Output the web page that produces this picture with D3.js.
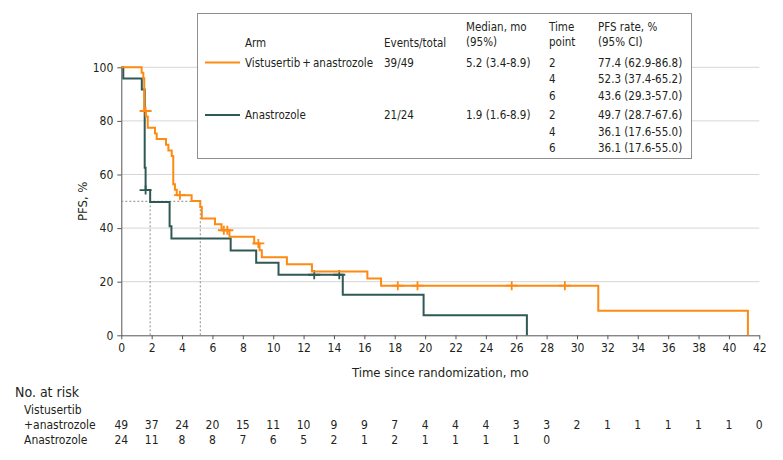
<!DOCTYPE html>
<html>
<head>
<meta charset="utf-8">
<script src="https://cdn.jsdelivr.net/npm/d3@7"></script>
<style>
  body { margin: 0; background: #fff; }
  svg text { font-family: "DejaVu Sans Condensed", "DejaVu Sans", sans-serif; font-stretch: condensed; fill: #231f20; }
</style>
</head>
<body>
<svg id="km" width="783" height="460"></svg>
<script>
// Datos.

// Vistusertib + anastrozole: tiempos de evento y supervivencia despues del paso
const vist_time = [0, 1.34, 1.45, 1.51, 1.62, 1.74, 2.22, 2.33, 2.94, 3.1, 3.32, 3.42, 3.53, 3.65, 4.63, 5.2, 5.3, 6.17, 6.6, 7.12, 8.75, 9.1, 9.25, 10.9, 12.55, 16.2, 17.1, 31.4, 41.25];
const vist_surv = [100, 98.0, 95.9, 83.7, 81.6, 77.4, 75.3, 73.2, 71.1, 69.0, 66.9, 56.4, 54.3, 52.3, 50.1, 47.9, 43.6, 41.4, 39.2, 36.8, 34.3, 31.7, 29.1, 26.5, 23.8, 21.2, 18.5, 9.2, 0];
const vist_cens_time = [1.6, 3.86, 6.75, 6.98, 9.02, 18.2, 19.5, 25.7, 29.2];
const vist_cens_surv = [83.7, 52.3, 39.2, 39.2, 34.3, 18.5, 18.5, 18.5, 18.5];

// Anastrozole
const anas_time = [0, 0.13, 1.35, 1.54, 1.6, 1.9, 3.18, 3.3, 7.2, 8.88, 10.35, 14.58, 19.9, 26.7];
const anas_surv = [100, 95.8, 91.7, 62.5, 54.2, 49.7, 40.7, 36.1, 31.6, 27.1, 22.6, 15.1, 7.5, 0];
const anas_cens_time = [1.6, 12.7, 14.35];
const anas_cens_surv = [54.2, 22.6, 22.6];

const medians = [5.2, 1.9];

// Numero en riesgo
const risk_times = d3.range(0, 43, 2);
const vist_risk = [49, 37, 24, 20, 15, 11, 10, 9, 9, 7, 4, 4, 4, 3, 3, 2, 1, 1, 1, 1, 1, 0];
const anas_risk = [24, 11, 8, 8, 7, 6, 5, 2, 1, 2, 1, 1, 1, 1, 0];

// Tabla de leyenda
const arm_names = ["Vistusertib\u2009+\u2009anastrozole", "Anastrozole"];
const events_total = ["39/49", "21/24"];
const median_ci = ["5.2 (3.4-8.9)", "1.9 (1.6-8.9)"];
const time_points = [2, 4, 6];
const pfs_rates = [
    ["77.4 (62.9-86.8)", "52.3 (37.4-65.2)", "43.6 (29.3-57.0)"],
    ["49.7 (28.7-67.6)", "36.1 (17.6-55.0)", "36.1 (17.6-55.0)"]
];

const y_ticks = [0, 20, 40, 60, 80, 100];
const x_ticks = d3.range(0, 43, 2);

const COLOR_VIST = "#fd8a12";
const COLOR_ANAS = "#2e5956";
const FONT = "DejaVu Sans Condensed, DejaVu Sans, sans-serif";

// Configuracion grafico.
const svg = d3.select("svg#km");

const x = d3.scaleLinear().domain([0, 42]).range([121.3, 759.3]);
const y = d3.scaleLinear().domain([0, 100]).range([335.3, 67.3]);

// Grilla
svg.append("g")
    .selectAll("line.grid")
    .data(y_ticks.filter(d => d > 0))
    .join("line")
        .attr("class", "grid")
        .attr("x1", x(0))
        .attr("x2", x(42))
        .attr("y1", d => y(d))
        .attr("y2", d => y(d))
        .attr("stroke", "#d6d6d6")
        .attr("stroke-width", 1);

// Ejes
const axis_x = svg.append("g")
    .attr("transform", `translate(0, ${y(0)})`)
    .call(d3.axisBottom(x).tickValues(x_ticks).tickSize(4).tickPadding(4).tickSizeOuter(0));

const axis_y = svg.append("g")
    .attr("transform", `translate(${x(0)}, 0)`)
    .call(d3.axisLeft(y).tickValues(y_ticks).tickSize(4).tickPadding(4).tickSizeOuter(0));

[axis_x, axis_y].forEach(ax => {
    ax.select(".domain").attr("stroke", "#555");
    ax.selectAll(".tick line").attr("stroke", "#555");
    ax.selectAll(".tick text")
        .attr("font-size", 12)
        .attr("font-family", FONT)
        .attr("fill", "#231f20");
});

svg.append("text")
    .attr("x", (x(0) + x(42)) / 2)
    .attr("y", 377)
    .attr("text-anchor", "middle")
    .attr("font-size", 13)
    .text("Time since randomization, mo");

svg.append("text")
    .attr("transform", `translate(87, ${(y(0) + y(100)) / 2}) rotate(-90)`)
    .attr("text-anchor", "middle")
    .attr("font-size", 13)
    .text("PFS, %");

// Lineas de mediana
const medianas = svg.append("g")
    .attr("stroke", "#8a8a8a")
    .attr("stroke-width", 1)
    .attr("stroke-dasharray", "2,2");

medianas.append("line")
    .attr("x1", x(0)).attr("x2", x(d3.max(medians)))
    .attr("y1", y(50)).attr("y2", y(50));

medianas.selectAll("line.vert")
    .data(medians)
    .join("line")
        .attr("class", "vert")
        .attr("x1", d => x(d)).attr("x2", d => x(d))
        .attr("y1", y(50)).attr("y2", y(0));

// Curvas
const linea = d3.line()
    .x(d => x(d[0]))
    .y(d => y(d[1]))
    .curve(d3.curveStepAfter);

const curvas = [
    { time: anas_time, surv: anas_surv, ct: anas_cens_time, cs: anas_cens_surv, color: COLOR_ANAS },
    { time: vist_time, surv: vist_surv, ct: vist_cens_time, cs: vist_cens_surv, color: COLOR_VIST }
];

curvas.forEach(c => {
    const puntos = c.time.map((t, i) => [t, c.surv[i]]);
    svg.append("path")
        .attr("d", linea(puntos))
        .attr("fill", "none")
        .attr("stroke", c.color)
        .attr("stroke-width", 2);

    const cens = c.ct.map((t, i) => [t, c.cs[i]]);
    svg.append("g")
        .selectAll("path.cens")
        .data(cens)
        .join("path")
            .attr("class", "cens")
            .attr("d", d => {
                const cx = x(d[0]), cy = y(d[1]);
                return `M${cx - 6},${cy}H${cx + 6}M${cx},${cy - 4.5}V${cy + 4.5}`;
            })
            .attr("fill", "none")
            .attr("stroke", c.color)
            .attr("stroke-width", 1.8);
});

// Leyenda
const leyenda = svg.append("g");

leyenda.append("rect")
    .attr("x", 197.5).attr("y", 13.5)
    .attr("width", 494).attr("height", 145)
    .attr("fill", "#fff")
    .attr("stroke", "#8f8f8f")
    .attr("stroke-width", 1);

const col_x = { arm: 245, events: 384, median: 466, time: 549, pfs: 598 };
const fs_leg = 11.5;

const header = [
    [col_x.arm, 47, "Arm"],
    [col_x.events, 47, "Events/total"],
    [col_x.median, 31, "Median, mo"],
    [col_x.median, 46, "(95%)"],
    [col_x.time, 31, "Time"],
    [col_x.time, 46, "point"],
    [col_x.pfs, 31, "PFS rate, %"],
    [col_x.pfs, 46, "(95% CI)"]
];

leyenda.selectAll("text.head")
    .data(header)
    .join("text")
        .attr("class", "head")
        .attr("x", d => d[0])
        .attr("y", d => d[1])
        .attr("font-size", fs_leg)
        .text(d => d[2]);

const row_base = [66.5, 119];
const row_step = 16.6;
const arm_colors = [COLOR_VIST, COLOR_ANAS];

arm_names.forEach((nombre, i) => {
    const by = row_base[i];
    leyenda.append("line")
        .attr("x1", 205).attr("x2", 240)
        .attr("y1", by - 4).attr("y2", by - 4)
        .attr("stroke", arm_colors[i])
        .attr("stroke-width", 2);
    leyenda.append("text").attr("x", col_x.arm).attr("y", by).attr("font-size", fs_leg).text(nombre);
    leyenda.append("text").attr("x", col_x.events).attr("y", by).attr("font-size", fs_leg).text(events_total[i]);
    leyenda.append("text").attr("x", col_x.median).attr("y", by).attr("font-size", fs_leg).text(median_ci[i]);
    time_points.forEach((tp, j) => {
        leyenda.append("text").attr("x", col_x.time).attr("y", by + j * row_step).attr("font-size", fs_leg).text(tp);
        leyenda.append("text").attr("x", col_x.pfs).attr("y", by + j * row_step).attr("font-size", fs_leg).text(pfs_rates[i][j]);
    });
});

// Tabla numero en riesgo
const riesgo = svg.append("g").attr("font-size", 12);

riesgo.append("text").attr("x", 15).attr("y", 397).attr("font-size", 14).text("No. at risk");
riesgo.append("text").attr("x", 24).attr("y", 414).text("Vistusertib");
riesgo.append("text").attr("x", 24).attr("y", 429).text("+anastrozole");
riesgo.append("text").attr("x", 24).attr("y", 443.5).text("Anastrozole");

riesgo.selectAll("text.vist")
    .data(vist_risk)
    .join("text")
        .attr("class", "vist")
        .attr("x", (d, i) => x(risk_times[i]))
        .attr("y", 429)
        .attr("text-anchor", "middle")
        .text(d => d);

riesgo.selectAll("text.anas")
    .data(anas_risk)
    .join("text")
        .attr("class", "anas")
        .attr("x", (d, i) => x(risk_times[i]))
        .attr("y", 443.5)
        .attr("text-anchor", "middle")
        .text(d => d);
</script>
</body>
</html>
